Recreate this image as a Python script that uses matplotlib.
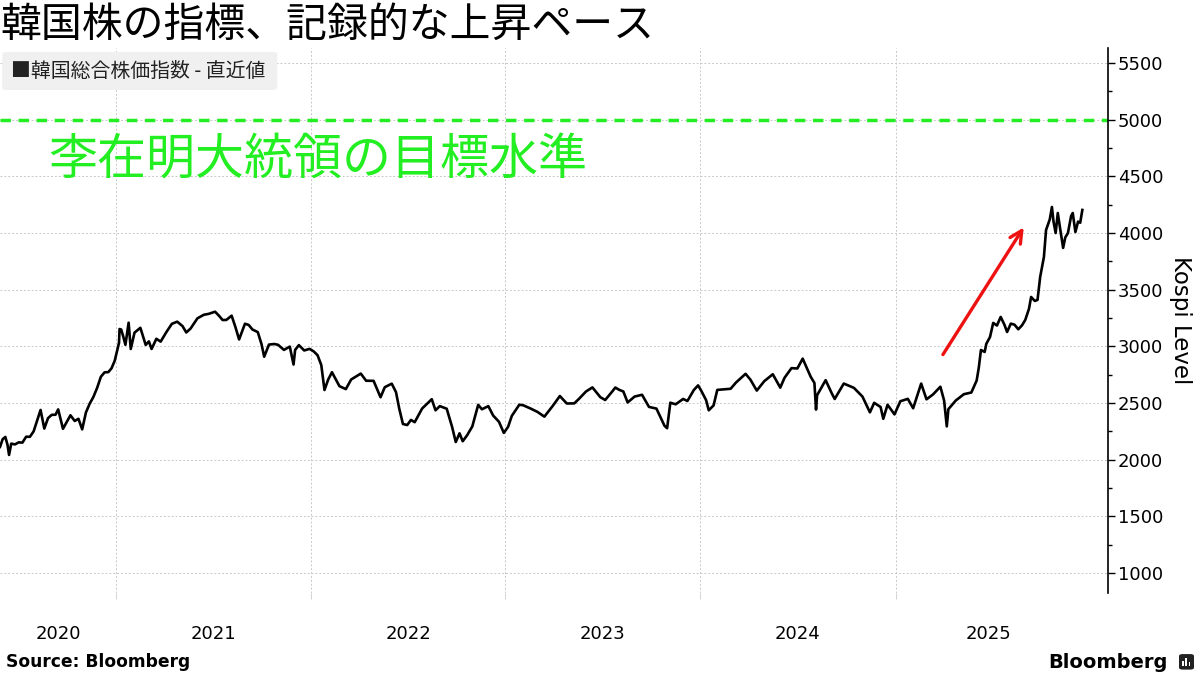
import pandas as pd
import numpy as np
import matplotlib
matplotlib.use("Agg")
import matplotlib.pyplot as plt
from matplotlib.patches import Rectangle, FancyBboxPatch

plt.rcParams["font.family"] = ["Noto Sans CJK JP", "DejaVu Sans"]

# KOSPI level
dates = [
    "2020-05-29", "2020-06-03", "2020-06-08", "2020-06-12", "2020-06-15", "2020-06-19", "2020-06-26",
    "2020-07-03", "2020-07-10", "2020-07-17", "2020-07-24", "2020-07-31", "2020-08-07", "2020-08-13",
    "2020-08-20", "2020-08-27", "2020-09-03", "2020-09-10", "2020-09-15", "2020-09-24", "2020-10-08",
    "2020-10-16", "2020-10-23", "2020-10-30", "2020-11-06", "2020-11-13", "2020-11-20", "2020-11-27",
    "2020-12-04", "2020-12-11", "2020-12-18", "2020-12-24", "2020-12-30", "2021-01-07", "2021-01-08",
    "2021-01-11", "2021-01-15", "2021-01-19", "2021-01-25", "2021-01-29", "2021-02-05", "2021-02-16",
    "2021-02-26", "2021-03-04", "2021-03-09", "2021-03-18", "2021-03-26", "2021-04-06", "2021-04-16",
    "2021-04-26", "2021-05-06", "2021-05-13", "2021-05-21", "2021-06-03", "2021-06-15", "2021-06-24",
    "2021-07-06", "2021-07-13", "2021-07-20", "2021-07-27", "2021-08-06", "2021-08-13", "2021-08-20",
    "2021-08-31", "2021-09-07", "2021-09-14", "2021-09-24", "2021-10-01", "2021-10-06", "2021-10-15",
    "2021-10-25", "2021-11-01", "2021-11-12", "2021-11-23", "2021-11-30", "2021-12-03", "2021-12-10",
    "2021-12-20", "2021-12-30", "2022-01-07", "2022-01-14", "2022-01-21", "2022-01-27", "2022-02-03",
    "2022-02-10", "2022-02-24", "2022-03-08", "2022-03-18", "2022-04-05", "2022-04-15", "2022-04-29",
    "2022-05-12", "2022-05-20", "2022-06-02", "2022-06-10", "2022-06-16", "2022-06-23", "2022-07-01",
    "2022-07-08", "2022-07-15", "2022-07-29", "2022-08-16", "2022-08-23", "2022-08-31", "2022-09-13",
    "2022-09-23", "2022-09-30", "2022-10-07", "2022-10-13", "2022-10-21", "2022-10-31", "2022-11-11",
    "2022-11-18", "2022-11-30", "2022-12-09", "2022-12-20", "2022-12-29", "2023-01-06", "2023-01-13",
    "2023-01-27", "2023-02-03", "2023-02-17", "2023-03-02", "2023-03-15", "2023-03-31", "2023-04-13",
    "2023-04-26", "2023-05-10", "2023-05-19", "2023-06-01", "2023-06-13", "2023-06-28", "2023-07-07",
    "2023-07-20", "2023-07-26", "2023-08-02", "2023-08-10", "2023-08-18", "2023-08-31", "2023-09-14",
    "2023-09-27", "2023-10-11", "2023-10-26", "2023-10-31", "2023-11-06", "2023-11-16", "2023-11-30",
    "2023-12-08", "2023-12-20", "2023-12-28", "2024-01-03", "2024-01-12", "2024-01-17", "2024-01-26",
    "2024-02-02", "2024-02-15", "2024-02-27", "2024-03-08", "2024-03-26", "2024-04-04", "2024-04-16",
    "2024-04-30", "2024-05-16", "2024-05-30", "2024-06-07", "2024-06-20", "2024-07-01", "2024-07-11",
    "2024-07-26", "2024-08-02", "2024-08-05", "2024-08-07", "2024-08-23", "2024-09-04", "2024-09-09",
    "2024-09-26", "2024-10-15", "2024-10-31", "2024-11-14", "2024-11-22", "2024-12-04", "2024-12-09",
    "2024-12-17", "2024-12-30", "2025-01-10", "2025-01-24", "2025-02-03", "2025-02-18", "2025-02-28",
    "2025-03-12", "2025-03-26", "2025-04-02", "2025-04-07", "2025-04-10", "2025-04-24", "2025-05-09",
    "2025-05-23", "2025-06-02", "2025-06-06", "2025-06-10", "2025-06-17", "2025-06-20", "2025-06-27",
    "2025-07-03", "2025-07-10", "2025-07-17", "2025-07-24", "2025-07-29", "2025-08-05", "2025-08-12",
    "2025-08-19", "2025-08-26", "2025-09-01", "2025-09-08", "2025-09-12", "2025-09-19", "2025-09-24",
    "2025-09-29", "2025-10-06", "2025-10-10", "2025-10-17", "2025-10-21", "2025-10-24", "2025-10-28",
    "2025-11-01", "2025-11-05", "2025-11-11", "2025-11-15", "2025-11-20", "2025-11-26", "2025-11-29",
    "2025-12-04", "2025-12-09", "2025-12-13", "2025-12-17",
]
kospi = [
    2112, 2180, 2200, 2132, 2041, 2141, 2134,
    2152, 2150, 2202, 2201, 2249, 2351, 2438,
    2274, 2366, 2395, 2396, 2443, 2272, 2391,
    2341, 2360, 2267, 2416, 2493, 2553, 2633,
    2731, 2770, 2772, 2806, 2873, 3031, 3152,
    3148, 3085, 3013, 3208, 2976, 3120, 3163,
    3012, 3043, 2976, 3066, 3041, 3127, 3198,
    3217, 3178, 3122, 3156, 3247, 3278, 3286,
    3305, 3271, 3232, 3232, 3270, 3171, 3060,
    3199, 3188, 3148, 3125, 3019, 2908, 3015,
    3020, 3013, 2968, 2997, 2839, 2968, 3010,
    2963, 2977, 2954, 2921, 2834, 2614, 2707,
    2771, 2648, 2622, 2707, 2759, 2696, 2695,
    2550, 2639, 2670, 2595, 2451, 2314, 2305,
    2350, 2330, 2451, 2533, 2435, 2472, 2449,
    2290, 2155, 2232, 2162, 2213, 2293, 2483,
    2444, 2472, 2389, 2333, 2236, 2289, 2386,
    2484, 2480, 2451, 2421, 2379, 2476, 2561,
    2495, 2496, 2537, 2601, 2637, 2550, 2526,
    2600, 2636, 2616, 2601, 2504, 2556, 2572,
    2465, 2450, 2299, 2277, 2502, 2488, 2535,
    2517, 2614, 2655, 2607, 2525, 2435, 2478,
    2615, 2620, 2625, 2680, 2757, 2706, 2609,
    2692, 2753, 2635, 2722, 2807, 2804, 2891,
    2731, 2676, 2441, 2568, 2701, 2580, 2535,
    2671, 2633, 2556, 2417, 2501, 2464, 2360,
    2484, 2399, 2515, 2536, 2453, 2671, 2532,
    2574, 2643, 2521, 2293, 2445, 2522, 2577,
    2592, 2698, 2812, 2967, 2950, 3021, 3082,
    3206, 3183, 3259, 3190, 3126, 3200, 3190,
    3150, 3185, 3232, 3330, 3435, 3400, 3409,
    3612, 3788, 4026, 4120, 4229, 4100, 3999,
    4176, 4050, 3868, 3960, 3999, 4150, 4176,
    4008, 4100, 4090, 4203,
]
years = ["2020", "2021", "2022", "2023", "2024", "2025"]
target_level = 5000
arrow_start = ("2025-03-28", 2906)
arrow_end = ("2025-09-01", 4070)


def main():
    s = pd.Series(kospi, index=pd.to_datetime(dates))
    x0 = pd.Timestamp("2020-05-29")
    x1 = pd.Timestamp("2026-02-03")

    fig = plt.figure(figsize=(12, 6.75), dpi=100)
    ax = fig.add_axes([0.0, 0.1215, 0.9233, 0.8074])

    ax.plot(s.index, s.values, color="black", linewidth=1.9, zorder=3)
    ax.axhline(target_level, color="#22ee22", linewidth=2.5, linestyle=(0, (3, 2.2)), zorder=2)
    ax.text(pd.Timestamp("2020-08-27"), 4640, "李在明大統領の目標水準", color="#22ee22",
            fontsize=35.3, va="center", ha="left", zorder=4)

    ax.annotate("", xy=(pd.Timestamp(arrow_end[0]), arrow_end[1]),
                xytext=(pd.Timestamp(arrow_start[0]), arrow_start[1]),
                arrowprops=dict(arrowstyle="->", color="#ee1111", lw=2.4, mutation_scale=22),
                zorder=4)

    ax.set_xlim(x0, x1)
    ax.set_ylim(823, 5632)

    # y axis on the right
    ax.yaxis.tick_right()
    ax.yaxis.set_label_position("right")
    ax.set_yticks(np.arange(1000, 5501, 500))
    ax.set_yticks(np.arange(1250, 5501, 500), minor=True)
    ax.tick_params(axis="y", which="major", direction="out", length=5, width=1, labelsize=13, pad=2)
    ax.tick_params(axis="y", which="minor", direction="out", length=3, width=1)
    ax.set_ylabel("Kospi Level", fontsize=16.5, rotation=270, labelpad=21, family="DejaVu Sans")

    # x axis: year boundaries as ticks, year labels centred in visible part of each year
    bounds = [pd.Timestamp(f"{y}-01-01") for y in range(2021, 2026)]
    ax.set_xticks(bounds)
    ax.set_xticklabels([])
    ax.tick_params(axis="x", which="major", direction="out", length=4, width=0.6, color="#cccccc")
    edges = [x0] + bounds + [s.index[-1]]
    centers = [edges[i] + (edges[i + 1] - edges[i]) / 2 for i in range(len(years))]
    ax.set_xticks(centers, minor=True)
    ax.set_xticklabels(years, minor=True, fontsize=13, family="DejaVu Sans")
    ax.tick_params(axis="x", which="minor", length=0, pad=23)

    for lab in ax.get_yticklabels():
        lab.set_family("DejaVu Sans")

    ax.grid(True, which="major", color="#c8c8c8", linestyle=(0, (2, 2)), linewidth=0.7)
    for side in ["left", "top", "bottom"]:
        ax.spines[side].set_visible(False)
    ax.spines["right"].set_linewidth(1.2)

    # legend box
    ax.add_patch(FancyBboxPatch((0.002, 0.923), 275 / 1108, 0.0697, transform=ax.transAxes,
                                boxstyle="round,pad=0,rounding_size=0.004",
                                facecolor="#f0f0f0", edgecolor="none", zorder=5))
    ax.text(11 / 1108, 0.957, "■韓国総合株価指数 - 直近値", transform=ax.transAxes,
            fontsize=14.3, va="center", ha="left", zorder=6, color="#222222")

    fig.text(0.0, 0.963, "韓国株の指標、記録的な上昇ペース", fontsize=29.4, va="center", ha="left")
    fig.text(0.005, 0.019, "Source: Bloomberg", fontsize=12.3, fontweight="bold",
             va="center", ha="left", family="DejaVu Sans")
    fig.text(0.973, 0.019, "Bloomberg", fontsize=14, fontweight="bold",
             va="center", ha="right", family="DejaVu Sans")
    # small logo mark
    fig.patches.append(FancyBboxPatch((0.9825, 0.008), 0.0125, 0.023,
                                      boxstyle="round,pad=0,rounding_size=0.003",
                                      transform=fig.transFigure, facecolor="#222222",
                                      edgecolor="none"))
    for i, h in enumerate([0.008, 0.012, 0.006]):
        fig.patches.append(Rectangle((0.9849 + i * 0.0028, 0.013), 0.0014, h,
                                     transform=fig.transFigure, facecolor="white",
                                     edgecolor="none"))

    fig.savefig("out.png", dpi=100)
    plt.close(fig)


if __name__ == "__main__":
    main()
